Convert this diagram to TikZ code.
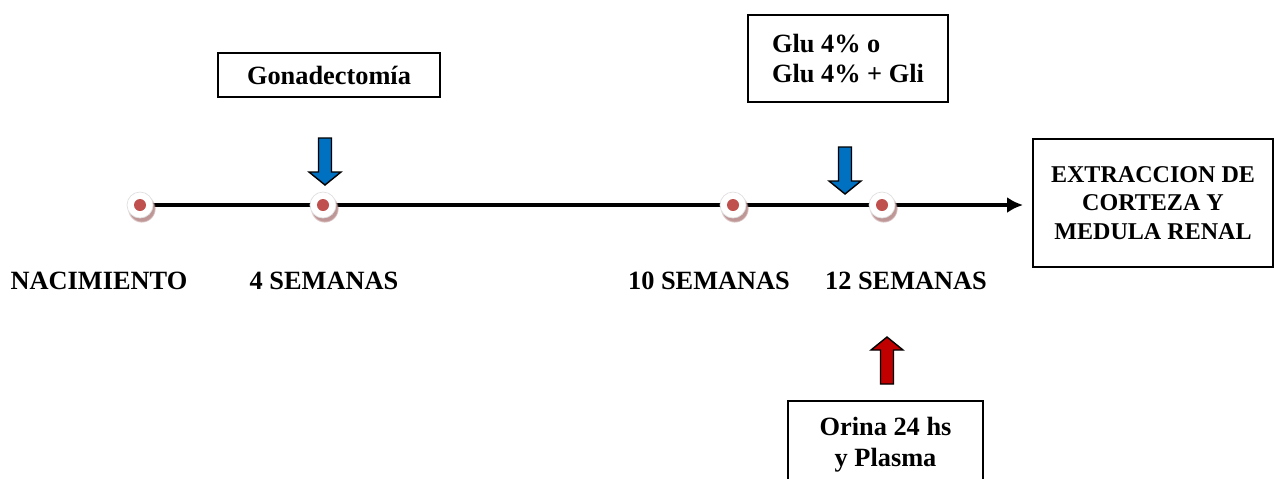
\documentclass[tikz,border=0pt]{standalone}
\usepackage{fontspec}
\setmainfont{Liberation Serif}
\usetikzlibrary{arrows.meta,shadows}
\definecolor{dotred}{RGB}{192,80,77}
\definecolor{dotshade}{RGB}{190,150,150}
\definecolor{arrblue}{RGB}{0,112,192}
\definecolor{arrred}{RGB}{192,0,0}
\tikzset{
  box/.style={draw, line width=1pt, font=\fontsize{15}{17.6}\selectfont\bfseries, align=center},
  lbl/.style={font=\fontsize{15}{17.6}\selectfont\bfseries},
  dot/.style={circle, fill=white, draw=black!12, minimum size=26*0.02cm, inner sep=0pt,
    circular drop shadow={shadow xshift=0.8pt, shadow yshift=-1.8pt, fill=dotshade, opacity=1}},
  blockarrow/.pic={\draw[pic actions] (-6.5,0) -- (-6.5,34) -- (-16,34) -- (0,47) -- (16,34) -- (6.5,34) -- (6.5,0) -- cycle;}
}
\begin{document}
\begin{tikzpicture}[x=0.02cm, y=-0.02cm, >={Latex[length=9pt,width=9pt]}]
\useasboundingbox (0,0) rectangle (1274,478);
\clip (0,0) rectangle (1274,478);
% time line
\coordinate (t0) at (140,205);
\coordinate (t1) at (323,205);
\coordinate (t2) at (733,205);
\coordinate (t3) at (882,205);
\coordinate (tend) at (1023,205);
\draw[->, line width=2.3pt] (t0)--(tend);
\foreach \i in {0,...,3}{
  \node[dot] (n\i) at (t\i) {};
  \fill[dotred] (n\i) circle (6);
}
% labels
\node[lbl] (nac) at (99,281) {NACIMIENTO};
\node[lbl] (s4) at (324,281) {4 SEMANAS};
\node[lbl] (s10) at (709,281) {10 SEMANAS};
\node[lbl] (s12) at (906,281) {12 SEMANAS};
% boxes
\node[box, minimum width=222*0.02cm, minimum height=44*0.02cm] (gonad) at (329,75) {Gonadectom\'ia};
\node[box, align=left, minimum width=200*0.02cm, minimum height=87*0.02cm] (glu) at (848,58.5) {Glu 4\% o\\Glu 4\% + Gli};
\node[box, font=\fontsize{13.7}{16.4}\selectfont\bfseries, minimum width=240*0.02cm, minimum height=128*0.02cm] (extr) at (1153,203) {EXTRACCION DE\\CORTEZA Y\\MEDULA RENAL};
\node[box, anchor=north, minimum width=195*0.02cm, minimum height=88*0.02cm] (orina) at (885.5,400) {Orina 24 hs\\y Plasma};
% block arrows
\pic[fill=arrblue, draw=black, line width=0.8pt] at (325,138) {blockarrow};
\pic[fill=arrblue, draw=black, line width=0.8pt] at (845,147) {blockarrow};
\pic[fill=arrred, draw=black, line width=0.8pt, rotate=180] at (887,384) {blockarrow};
\end{tikzpicture}
\end{document}
